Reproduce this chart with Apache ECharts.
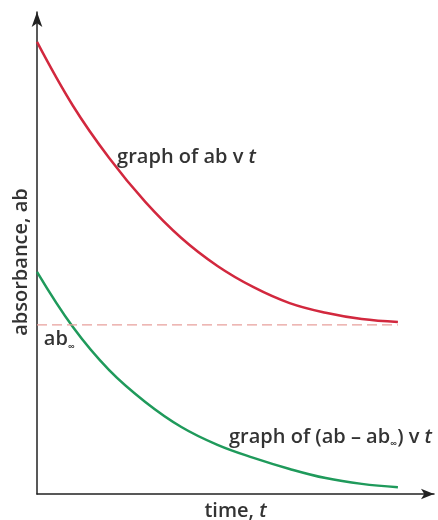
<!DOCTYPE html>
<html>
<head>
<meta charset="utf-8">
<script src="https://cdn.jsdelivr.net/npm/echarts@6/dist/echarts.min.js"></script>
<style>
  html, body { margin: 0; padding: 0; background: #fff; }
  #chart { width: 438px; height: 520px; }
</style>
</head>
<body>
<div id="chart"></div>
<script>
// time points (arbitrary units)
const times = [0, 1, 2, 3, 4, 5, 6, 7, 8, 9, 10];
// absorbance readings
const absorbance = [93.8, 80.5, 69.7, 60.6, 53.1, 47.3, 42.9, 39.6, 37.6, 36.3, 35.7];
const absMinusInf = [46.1, 34.6, 25.7, 19.1, 13.9, 10.2, 7.5, 5.2, 3.3, 2.1, 1.4];
const abInf = 35.1;

const font = '"Open Sans", "Noto Sans", sans-serif';
const fs = 20;

function pairs(xs, ys) {
  return xs.map((x, i) => [x, ys[i]]);
}

function note(x, y, text) {
  return {
    coord: [x, y],
    symbol: 'circle',
    symbolSize: 0,
    label: {
      show: true,
      position: 'inside',
      align: 'left',
      verticalAlign: 'middle',
      formatter: text,
      rich: rich
    }
  };
}

const baseText = { fontFamily: font, fontSize: fs, fontWeight: 600, color: '#333', lineHeight: 24 };
const rich = {
  n: baseText,
  i: Object.assign({}, baseText, { fontStyle: 'italic' }),
  sub: { fontFamily: font, fontSize: 10, fontWeight: 600, color: '#333', lineHeight: 12, verticalAlign: 'bottom', padding: [8, 0, 0, 0] }
};

const myChart = echarts.init(document.getElementById('chart'));
const option = {
  animation: false,
  grid: { left: 37, right: 4, top: 12, bottom: 26, outerBoundsMode: 'none' },
  xAxis: {
    type: 'value',
    min: 0,
    max: 11,
    name: '{n|time, }{i|t}',
    nameLocation: 'middle',
    nameGap: 5,
    nameTextStyle: { rich: rich, verticalAlign: 'top' },
    axisLine: {
      onZero: false,
      symbol: ['none', 'arrow'],
      symbolSize: [8, 13],
      lineStyle: { color: '#222', width: 1.5 }
    },
    axisTick: { show: false },
    axisLabel: { show: false },
    splitLine: { show: false }
  },
  yAxis: {
    type: 'value',
    min: 0,
    max: 100,
    name: 'absorbance, ab',
    nameLocation: 'middle',
    nameGap: 6,
    nameTextStyle: {
      fontFamily: font, fontSize: fs, fontWeight: 600, color: '#333',
      verticalAlign: 'bottom', padding: [0, 18, 0, 0]
    },
    axisLine: {
      show: true,
      onZero: false,
      symbol: ['none', 'arrow'],
      symbolSize: [8, 15],
      lineStyle: { color: '#222', width: 1.5 }
    },
    axisTick: { show: false },
    axisLabel: { show: false },
    splitLine: { show: false }
  },
  series: [
    {
      name: 'ab',
      type: 'line',
      smooth: 0.4,
      showSymbol: false,
      data: pairs(times, absorbance),
      lineStyle: { color: '#d2283e', width: 2.5 },
      markPoint: {
        data: [note(2.22, 69.9, '{n|graph of ab v }{i|t}')]
      }
    },
    {
      name: 'ab - ab_inf',
      type: 'line',
      smooth: 0.4,
      showSymbol: false,
      data: pairs(times, absMinusInf),
      lineStyle: { color: '#1f9a5b', width: 2.5 },
      markPoint: {
        data: [note(5.32, 11.8, '{n|graph of (ab – ab}{sub|∞}{n|) v }{i|t}')]
      }
    },
    {
      name: 'ab_inf',
      type: 'line',
      showSymbol: false,
      data: [[times[0], abInf], [times[times.length - 1], abInf]],
      lineStyle: { color: '#e7a09c', width: 1.2, type: [10, 5] },
      markPoint: {
        data: [note(0.19, 32, '{n|ab}{sub|∞}')]
      }
    }
  ]
};
myChart.setOption(option);
</script>
</body>
</html>
